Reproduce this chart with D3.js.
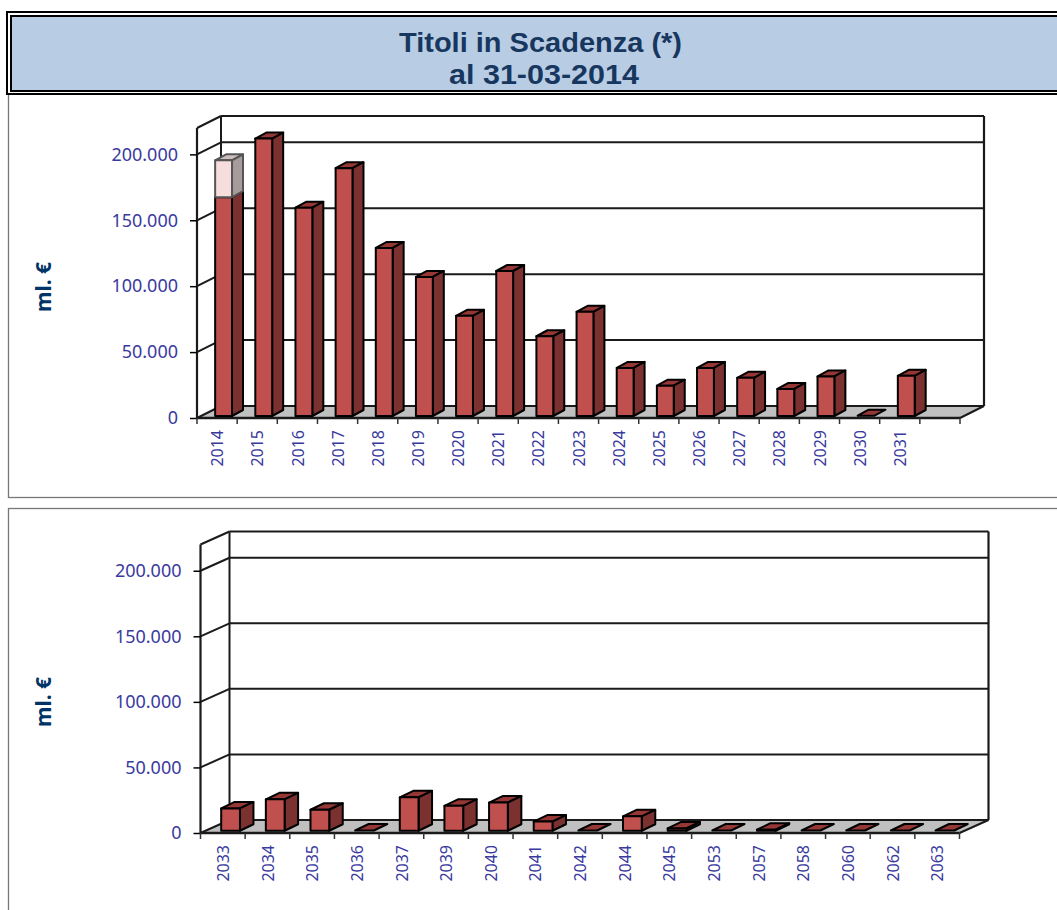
<!DOCTYPE html>
<meta charset="utf-8">
<style>
    body { margin: 0; background: #fff; overflow: hidden; }
    text { font-family: "Noto Sans", sans-serif; }
</style>
<script src="https://d3js.org/d3.v7.min.js"></script>
<div id="chart"></div>
<script>

    // values in ml. euro
    var years1 = ["2014", "2015", "2016", "2017", "2018", "2019", "2020", "2021", "2022",
        "2023", "2024", "2025", "2026", "2027", "2028", "2029", "2030", "2031"];
    var values1 = [166000, 210500, 158000, 188000, 127500, 105500, 76000, 110000, 60500,
        79000, 36500, 23000, 36500, 29000, 20500, 30000, 200, 30500];
    // pale part stacked on top of the bar, only 2014 has it
    var extra1 = [28000, 0, 0, 0, 0, 0, 0, 0, 0, 0, 0, 0, 0, 0, 0, 0, 0, 0];

    var years2 = ["2033", "2034", "2035", "2036", "2037", "2039", "2040", "2041", "2042",
        "2044", "2045", "2053", "2057", "2058", "2060", "2062", "2063"];
    var values2 = [17000, 24000, 16000, 200, 25500, 19000, 21500, 7000, 200,
        11000, 1800, 200, 800, 200, 200, 200, 200];
    var extra2 = [0, 0, 0, 0, 0, 0, 0, 0, 0, 0, 0, 0, 0, 0, 0, 0, 0];

    var yTicks = [0, 50000, 100000, 150000, 200000];

    var fullWidth = 1057, fullHeight = 910;

    var svg = d3.select("#chart")
        .append("svg")
        .attr("width", fullWidth)
        .attr("height", fullHeight)
        .style("display", "block");

    // panel frames
    svg.append("rect").attr("x", 8.5).attr("y", 90.5).attr("width", 1060).attr("height", 407)
        .attr("fill", "none").attr("stroke", "#777").attr("stroke-width", 1.3);
    svg.append("rect").attr("x", 8.5).attr("y", 508.5).attr("width", 1060).attr("height", 420)
        .attr("fill", "none").attr("stroke", "#777").attr("stroke-width", 1.3);

    // header box with the double border
    svg.append("rect").attr("x", 7).attr("y", 12).attr("width", 1060).attr("height", 82)
        .attr("fill", "#fff").attr("stroke", "#000").attr("stroke-width", 2);
    svg.append("rect").attr("x", 11).attr("y", 16).attr("width", 1060).attr("height", 75)
        .attr("fill", "#b8cce4").attr("stroke", "#000").attr("stroke-width", 2);

    svg.append("text").attr("x", 540.5).attr("y", 52).attr("text-anchor", "middle")
        .attr("font-size", 27).attr("font-weight", "bold").attr("fill", "#17375e")
        .style("font-family", "Liberation Sans")
        .attr("textLength", 283).attr("lengthAdjust", "spacingAndGlyphs")
        .text("Titoli in Scadenza (*)");
    svg.append("text").attr("x", 544).attr("y", 84).attr("text-anchor", "middle")
        .attr("font-size", 27).attr("font-weight", "bold").attr("fill", "#17375e")
        .style("font-family", "Liberation Sans")
        .attr("textLength", 190).attr("lengthAdjust", "spacingAndGlyphs")
        .text("al 31-03-2014");

    drawChart({ years: years1, values: values1, extra: extra1, left: 197, right: 960,
        base: 418, top: 128, dx: 24, dy: 12, titleX: 44, titleY: 287 });
    drawChart({ years: years2, values: values2, extra: extra2, left: 200.5, right: 959.5,
        base: 833, top: 544.5, dx: 29, dy: 13, titleX: 44, titleY: 702 });

    function drawChart(c) {
        var g = svg.append("g");

        // one empty slot at the end in the first chart, same as the original
        var slots = c.years.length == 18 ? c.years.concat([""]) : c.years;

        var x = d3.scaleBand().domain(slots).range([c.left, c.right]).padding(0);
        var y = d3.scaleLinear().domain([0, 220000]).range([c.base, c.top]);

        var line = function (x1, y1, x2, y2, w, col) {
            g.append("line").attr("x1", x1).attr("y1", y1).attr("x2", x2).attr("y2", y2)
                .attr("stroke", col || "#1a1a1a").attr("stroke-width", w || 2);
        };

        // floor
        g.append("polygon")
            .attr("points", [[c.left, c.base], [c.right, c.base],
                [c.right + c.dx, c.base - c.dy], [c.left + c.dx, c.base - c.dy]].join(" "))
            .attr("fill", "#c0c0c0");

        // gridlines on the back and side walls
        yTicks.forEach(function (t) {
            line(c.left, y(t), c.left + c.dx, y(t) - c.dy);
            line(c.left + c.dx, y(t) - c.dy, c.right + c.dx, y(t) - c.dy);
        });

        // wall outlines
        line(c.left, c.top, c.left + c.dx, c.top - c.dy);
        line(c.left + c.dx, c.top - c.dy, c.right + c.dx, c.top - c.dy);
        line(c.left + c.dx, c.top - c.dy, c.left + c.dx, c.base - c.dy);
        line(c.right + c.dx, c.top - c.dy, c.right + c.dx, c.base - c.dy, 2.2);
        line(c.left, c.top, c.left, c.base, 2.2);
        line(c.left, c.base, c.right, c.base, 2.5);
        line(c.right, c.base, c.right + c.dx, c.base - c.dy, 2);

        // bars sit a quarter of the way into the depth
        var barW = x.bandwidth() * 0.42;
        var offX = c.dx / 4 + 0.5, offY = c.dy / 4 - 1;
        var sideX = c.dx / 2 - 1, sideY = c.dy / 2;

        function box(xLeft, yBottom, yTop, front, side, top, stroke) {
            var bars = g.append("g").attr("stroke", stroke).attr("stroke-width", 2)
                .attr("stroke-linejoin", "round");
            bars.append("polygon")
                .attr("points", [[xLeft, yTop], [xLeft + barW, yTop],
                    [xLeft + barW + sideX, yTop - sideY], [xLeft + sideX, yTop - sideY]].join(" "))
                .attr("fill", top);
            if (yBottom - yTop > 0.5) {
                bars.append("polygon")
                    .attr("points", [[xLeft + barW, yBottom], [xLeft + barW, yTop],
                        [xLeft + barW + sideX, yTop - sideY], [xLeft + barW + sideX, yBottom - sideY]].join(" "))
                    .attr("fill", side);
                bars.append("rect")
                    .attr("x", xLeft).attr("y", yTop)
                    .attr("width", barW).attr("height", yBottom - yTop)
                    .attr("fill", front);
            }
        }

        c.years.forEach(function (yr, i) {
            var bx = x(yr) + (x.bandwidth() - barW) / 2 + offX;
            var v = c.values[i], e = c.extra[i];
            box(bx, y(0) - offY, y(v) - offY, "#c0504d", "#7b3130", "#953735", "#000");
            if (e > 0) {
                box(bx, y(v) - offY, y(v + e) - offY, "#f6dedc", "#a89b9b", "#cdbdbd", "#555");
            }
        });

        // value axis
        var yAxis = g.append("g")
            .attr("transform", "translate(" + c.left + ",0)")
            .call(d3.axisLeft(y).tickValues(yTicks).tickSize(7).tickPadding(12)
                .tickFormat(function (d) { return d3.format(",")(d).replace(/,/g, "."); }));
        yAxis.select(".domain").remove();
        yAxis.selectAll("line").attr("stroke", "#000").attr("stroke-width", 1.5);
        yAxis.selectAll("text").attr("fill", "#3a3a9e").attr("font-size", 18)
            .attr("font-family", "Noto Sans");

        // year axis, ticks go on the slot edges
        var xAxis = g.append("g")
            .attr("transform", "translate(0," + c.base + ")")
            .call(d3.axisBottom(x).tickSize(6));
        xAxis.select(".domain").remove();
        xAxis.selectAll(".tick line")
            .attr("x1", -x.bandwidth() / 2).attr("x2", -x.bandwidth() / 2)
            .attr("stroke", "#333").attr("stroke-width", 1.5);
        xAxis.selectAll(".tick text")
            .attr("transform", "rotate(-90)")
            .attr("text-anchor", "end")
            .attr("x", -12).attr("y", 0.5).attr("dy", "0.35em")
            .attr("fill", "#3a3a9e").attr("font-size", 16)
            .attr("font-family", "Noto Sans");
        line(c.right, c.base, c.right, c.base + 6, 1.5, "#333");

        // axis title
        g.append("text")
            .attr("transform", "translate(" + (c.titleX + 7) + "," + c.titleY + ") rotate(-90)")
            .attr("text-anchor", "middle")
            .attr("font-size", 21).attr("font-weight", "bold").attr("fill", "#003366")
            .text("ml. €");
    }
</script>
